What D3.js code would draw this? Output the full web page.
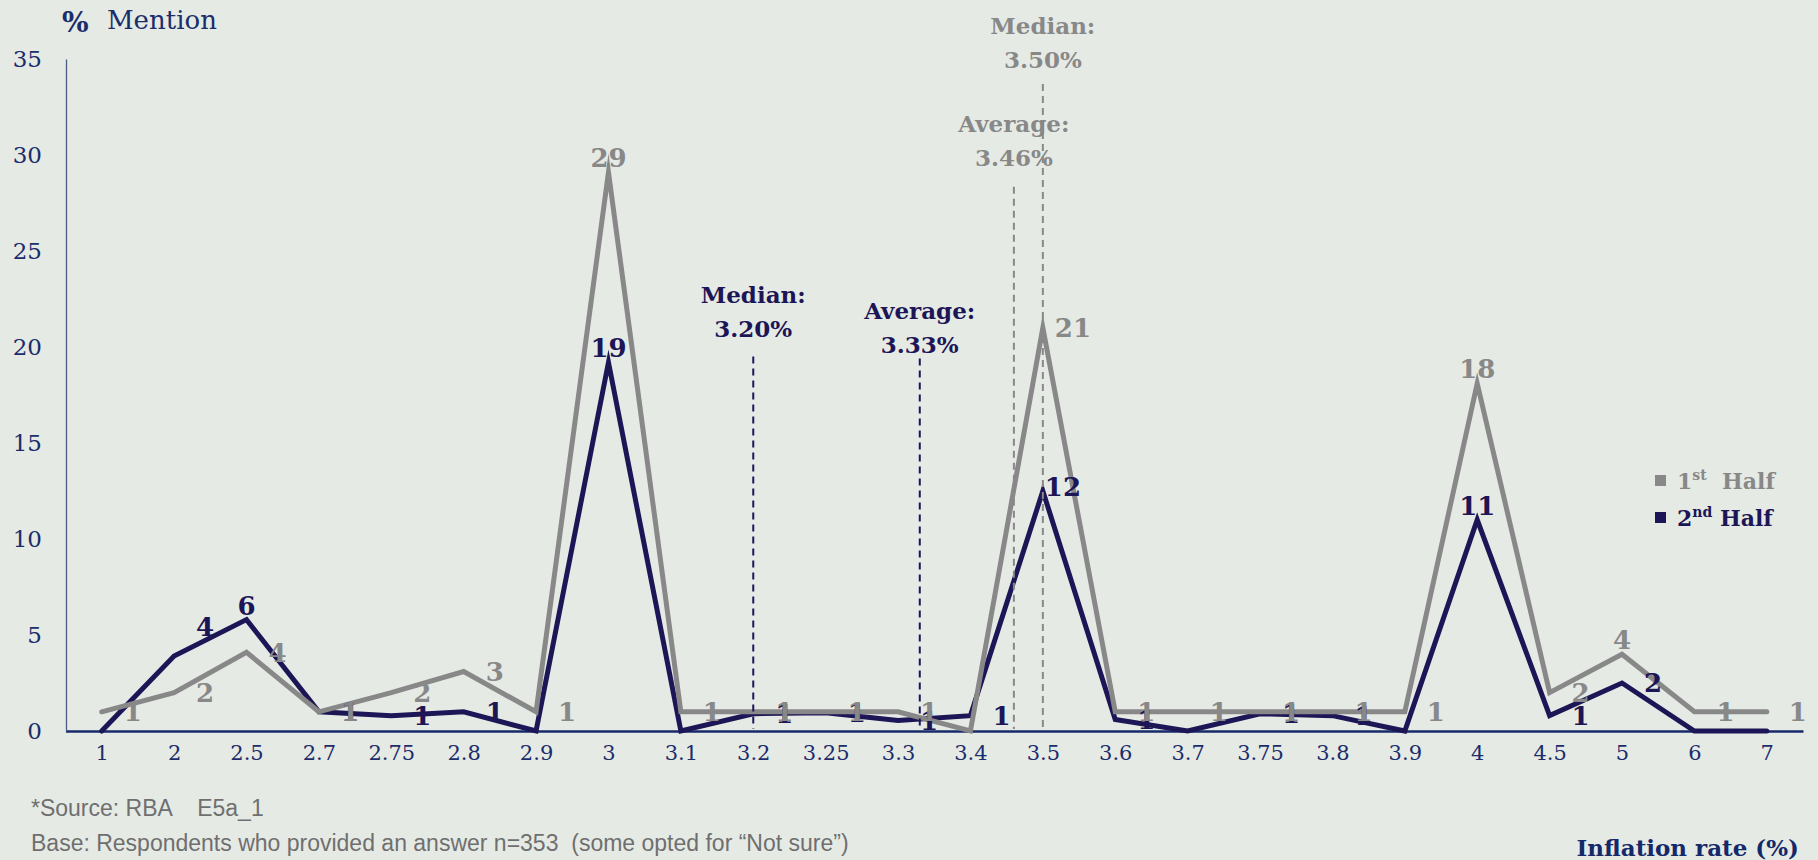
<!DOCTYPE html>
<html>
<head>
<meta charset="utf-8">
<script src="https://cdn.jsdelivr.net/npm/d3@7"></script>
<style>
  html, body { margin: 0; padding: 0; background: #e6eae5; }
  svg { display: block; }
  text { white-space: pre; }
</style>
</head>
<body>
<div id="chart"></div>
<script>
// ---------------- data ----------------
const categories = ["1","2","2.5","2.7","2.75","2.8","2.9","3","3.1","3.2","3.25","3.3","3.4","3.5","3.6","3.7","3.75","3.8","3.9","4","4.5","5","6","7"];
const firstHalf  = [1, 2, 4.1, 1, 2, 3.1, 1, 29.1, 1, 1, 1, 1, 0, 21, 1, 1, 1, 1, 1, 18.1, 2, 4, 1, 1];
const secondHalf = [0, 3.9, 5.8, 1, 0.8, 1, 0, 19.2, 0, 0.9, 0.95, 0.55, 0.8, 12.5, 0.6, 0, 0.9, 0.8, 0, 11, 0.8, 2.5, 0, 0];
const firstLabels  = ["1","2","4","1","2","3","1","29","1","1","1","1","","21","1","1","1","1","1","18","2","4","1","1"];
const secondLabels = ["","4","6","1","1","1","","19","","1","1","1","1","12","1","","1","1","","11","1","2","",""];
const yTicks = [0, 5, 10, 15, 20, 25, 30, 35];
const seriesNames = ["1st Half", "2nd Half"];

// reference lines (median / average)
const refTitles = ["Median:", "Average:", "Average:", "Median:"];
const refValues = [3.20, 3.33, 3.46, 3.50];
const refText   = ["3.20%", "3.33%", "3.46%", "3.50%"];
const refSeries = [1, 1, 0, 0];

// label placement: r = right, t = top, u = up-right, n = near-right
const firstLabelPos  = ["r","r","r","r","r","r","r","t","r","r","r","r","r","n","r","r","r","r","r","t","r","t","r","r"];
const secondLabelPos = ["r","u","t","r","r","r","r","t","r","r","r","r","r","k","r","r","r","r","r","t","r","r","r","r"];

// ---------------- layout / style ----------------
const W = 1818, H = 860;
const bg = "#e6eae5";
const navy = "#1b2d6b";
const darkC = "#1d1656";
const grayC = "#888888";
const serif = "'DejaVu Serif', Georgia, serif";
const sans = "'Liberation Sans', Arial, sans-serif";

const svg = d3.select("#chart").append("svg").attr("width", W).attr("height", H);
svg.append("rect").attr("width", W).attr("height", H).attr("fill", bg);

const x = d3.scalePoint().domain(categories).range([65.5, 1803]).padding(0.5);
const y = d3.scaleLinear().domain([0, 35]).range([731, 59]);

const catNums = categories.map(Number);
function xForValue(v) {
  for (let i = 0; i < catNums.length - 1; i++) {
    if (v >= catNums[i] && v <= catNums[i + 1]) {
      const t = (v - catNums[i]) / (catNums[i + 1] - catNums[i]);
      return x(categories[i]) + t * (x(categories[i + 1]) - x(categories[i]));
    }
  }
  return x(categories[0]);
}

// axes
const xAxis = svg.append("g").attr("transform", `translate(0,${y(0)})`)
  .call(d3.axisBottom(x).tickSize(0).tickPadding(14));
xAxis.select(".domain").attr("stroke", "#172a6a").attr("stroke-width", 2.5);
xAxis.selectAll("text").attr("font-family", serif).attr("font-size", 21).attr("fill", navy);

const yAxis = svg.append("g").attr("transform", `translate(66,0)`)
  .call(d3.axisLeft(y).tickValues(yTicks).tickSize(0).tickPadding(24));
yAxis.select(".domain").attr("stroke", "#4a5a86").attr("stroke-width", 1.3);
yAxis.selectAll("text").attr("font-family", serif).attr("font-size", 23).attr("fill", navy);

// lines
const line = d3.line().x((d, i) => x(categories[i])).y(d => y(d));
svg.append("path").datum(secondHalf).attr("d", line)
  .attr("fill", "none").attr("stroke", darkC).attr("stroke-width", 5)
  .attr("stroke-linejoin", "miter").attr("stroke-miterlimit", 10).attr("stroke-linecap", "round");
svg.append("path").datum(firstHalf).attr("d", line)
  .attr("fill", "none").attr("stroke", grayC).attr("stroke-width", 5)
  .attr("stroke-linejoin", "miter").attr("stroke-miterlimit", 10).attr("stroke-linecap", "round");

// data labels
function drawLabels(vals, labels, pos, color) {
  const g = svg.append("g").attr("font-family", serif).attr("font-weight", "bold")
    .attr("font-size", 26).attr("fill", color);
  vals.forEach((v, i) => {
    if (!labels[i]) return;
    const px = x(categories[i]), py = y(v);
    const t = g.append("text").text(labels[i]);
    if (pos[i] === "t") {
      t.attr("x", px).attr("y", py - 5).attr("text-anchor", "middle");
    } else if (pos[i] === "u") {
      t.attr("x", px + 22).attr("y", py - 20).attr("text-anchor", "start");
    } else if (pos[i] === "k") {
      t.attr("x", px + 2).attr("y", py + 5).attr("text-anchor", "start");
    } else if (pos[i] === "n") {
      t.attr("x", px + 12).attr("y", py).attr("dy", "0.36em").attr("text-anchor", "start");
    } else {
      t.attr("x", px + 22).attr("y", py).attr("dy", "0.36em").attr("text-anchor", "start");
    }
  });
}
drawLabels(secondHalf, secondLabels, secondLabelPos, darkC);
drawLabels(firstHalf, firstLabels, firstLabelPos, grayC);

// reference lines + annotations (top of line and text baseline in data units)
const refTop   = [19.5, 19.4, 28.35, 33.7];
const refTextY = [20.5, 19.7, 29.45, 34.55];
refValues.forEach((v, i) => {
  const c = refSeries[i] === 1 ? darkC : grayC;
  const xx = xForValue(v);
  svg.append("line").attr("x1", xx).attr("x2", xx)
    .attr("y1", y(refTop[i])).attr("y2", y(0) - 2)
    .attr("stroke", c).attr("stroke-width", 2).attr("stroke-dasharray", "7,5");
  const tg = svg.append("text").attr("font-family", serif).attr("font-weight", "bold")
    .attr("font-size", 23).attr("fill", c).attr("text-anchor", "middle");
  tg.append("tspan").attr("x", xx).attr("y", y(refTextY[i]) - 34).text(refTitles[i]);
  tg.append("tspan").attr("x", xx).attr("y", y(refTextY[i])).text(refText[i]);
});

// axis titles
svg.append("text").attr("x", 62).attr("y", 32).attr("font-family", serif).attr("font-weight", "bold")
  .attr("font-size", 28).attr("fill", navy).text("%");
svg.append("text").attr("x", 107).attr("y", 29).attr("font-family", serif)
  .attr("font-size", 26).attr("fill", navy).text("Mention");
svg.append("text").attr("x", 1799).attr("y", 856).attr("text-anchor", "end").attr("font-family", serif)
  .attr("font-weight", "bold").attr("font-size", 23).attr("fill", "#13296a").text("Inflation rate (%)");

// legend
const legColors = [grayC, darkC];
const legSup = ["st", "nd"];
const legNum = ["1", "2"];
seriesNames.forEach((n, i) => {
  const ly = 489 + i * 37;
  svg.append("rect").attr("x", 1655).attr("y", ly - 14).attr("width", 11).attr("height", 11).attr("fill", legColors[i]);
  const t = svg.append("text").attr("x", 1677).attr("y", ly).attr("font-family", serif)
    .attr("font-weight", "bold").attr("font-size", 22).attr("fill", legColors[i]);
  t.append("tspan").text(legNum[i]);
  t.append("tspan").attr("font-size", 14).attr("dy", -9).text(legSup[i]);
  t.append("tspan").attr("dy", 9).text(n.replace(/^\d+(st|nd)/, "").replace(/^ /, i === 0 ? "  " : " "));
});

// footer
svg.append("text").attr("x", 31).attr("y", 816).attr("font-family", sans).attr("font-size", 23)
  .attr("fill", "#6f6f6f").text("*Source: RBA    E5a_1");
svg.append("text").attr("x", 31).attr("y", 851).attr("font-family", sans).attr("font-size", 23)
  .attr("fill", "#6f6f6f").text("Base: Respondents who provided an answer n=353  (some opted for \u201cNot sure\u201d)");
</script>
</body>
</html>
